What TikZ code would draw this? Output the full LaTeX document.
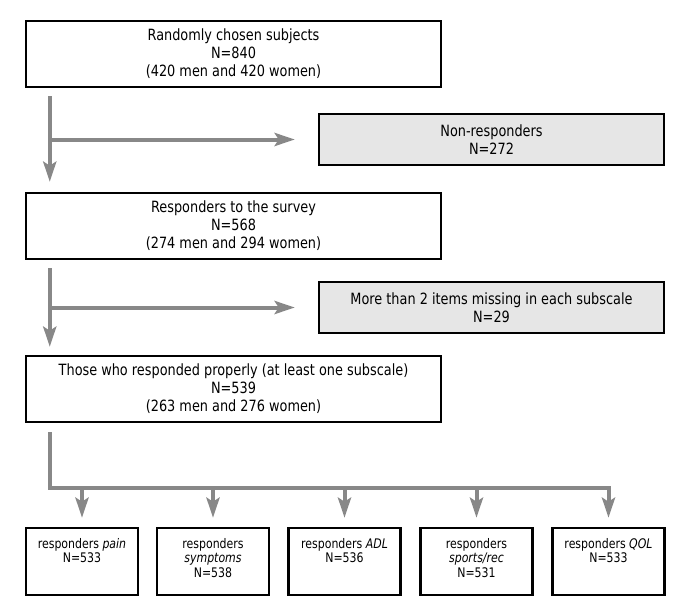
\documentclass[tikz,border=0pt]{standalone}
\usepackage{fontspec}
\setmainfont{DejaVu Sans}[FakeStretch=0.83]
\usetikzlibrary{arrows.meta,calc}
\definecolor{flowgray}{HTML}{888888}
\definecolor{sidefill}{HTML}{E6E6E6}
\tikzset{
  mainbox/.style={draw=black, line width=2.5pt, fill=white, minimum width=415pt, minimum height=66pt,
    inner sep=0pt, align=center, font=\fontsize{15.5pt}{18pt}\selectfont},
  sidebox/.style={draw=black, line width=2.5pt, fill=sidefill, minimum width=345pt, minimum height=51pt,
    inner sep=0pt, align=center, font=\fontsize{15.5pt}{18pt}\selectfont},
  subbox/.style={draw=black, line width=2.5pt, fill=white, minimum width=112pt, minimum height=67pt, inner sep=0pt},
  subtext/.style={anchor=north, inner sep=0pt, align=center, font=\fontsize{13.2pt}{14.5pt}\selectfont},
  flow/.style={draw=flowgray, line width=4pt, -{Stealth[length=20pt, width=13pt, inset=4pt]}},
}
\begin{document}
\begin{tikzpicture}[x=1pt, y=-1pt]
\useasboundingbox (0,0) rectangle (685,613);

\node[mainbox] (b1) at (233.5,54) {Randomly chosen subjects\\N=840\\(420 men and 420 women)};
\node[mainbox] (b2) at (233.5,226) {Responders to the survey\\N=568\\(274 men and 294 women)};
\node[mainbox] (b3) at (233.5,389) {Those who responded properly (at least one subscale)\\N=539\\(263 men and 276 women)};
\node[sidebox] (nr) at (491.5,139.5) {Non-responders\\N=272};
\node[sidebox] (ms) at (491.5,307.5) {More than 2 items missing in each subscale\\N=29};

\node[subbox] (s1) at (82,561.5) {};
\node[subbox] (s2) at (213,561.5) {};
\node[subbox] (s3) at (344.5,561.5) {};
\node[subbox] (s4) at (476.5,561.5) {};
\node[subbox] (s5) at (608.5,561.5) {};
\node[subtext] (t1) at ($(s1.north)+(0,11.5)$) {responders \textit{pain}\\N=533};
\node[subtext] (t2) at ($(s2.north)+(0,11.5)$) {responders\\\textit{symptoms}\\N=538};
\node[subtext] (t3) at ($(s3.north)+(0,11.5)$) {responders \textit{ADL}\\N=536};
\node[subtext] (t4) at ($(s4.north)+(0,11.5)$) {responders\\\textit{sports/rec}\\N=531};
\node[subtext] (t5) at ($(s5.north)+(0,11.5)$) {responders \textit{QOL}\\N=533};

% first step
\coordinate (a1) at ($(b1.south west)+(25,8)$);
\coordinate (a1e) at ($(b2.north west)+(25,0)$);
\draw[flow, shorten >=10pt] (a1) -- (a1e);
\draw[flow, shorten >=23pt] (a1 |- nr.west) -- (nr.west);

% second step
\coordinate (a2) at ($(b2.south west)+(25,8)$);
\coordinate (a2e) at ($(b3.north west)+(25,0)$);
\draw[flow, shorten >=8pt] (a2) -- (a2e);
\draw[flow, shorten >=23pt] (a2 |- ms.west) -- (ms.west);

% distribution
\coordinate (a3) at ($(b3.south west)+(25,9)$);
\coordinate (h) at (0,488);
\draw[flow, line join=miter, shorten >=9pt] (a3) -- (a3 |- h) -- (s5.north |- h) -- (s5.north);
\foreach \s in {s1,s2,s3,s4}{
  \draw[flow, shorten >=9pt] (\s.north |- h) -- (\s.north);
}
\end{tikzpicture}
\end{document}
